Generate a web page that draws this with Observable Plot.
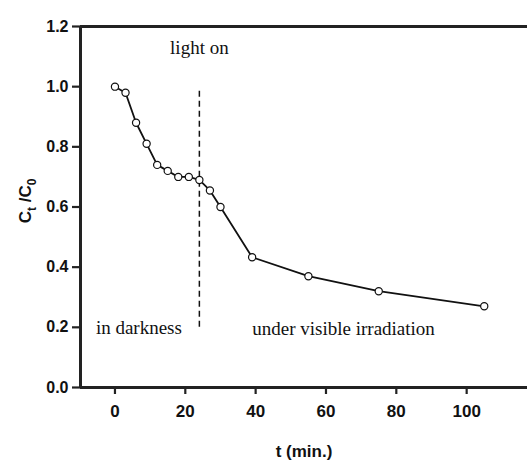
<!DOCTYPE html>
<html>
<head>
<meta charset="utf-8">
<script src="https://cdn.jsdelivr.net/npm/d3@7"></script>
<script src="https://cdn.jsdelivr.net/npm/@observablehq/plot@0.6"></script>
<style>
  html, body { margin: 0; padding: 0; background: #fff; }
  #chart { width: 527px; height: 460px; }
</style>
</head>
<body>
<div id="chart"></div>
<script>
// Data
const times = [0, 3, 6, 9, 12, 15, 18, 21, 24, 27, 30, 39, 55, 75, 105];
const ratios = [1.0, 0.98, 0.88, 0.81, 0.74, 0.72, 0.70, 0.70, 0.69, 0.655, 0.60, 0.433, 0.37, 0.32, 0.27];
const xTicks = [0, 20, 40, 60, 80, 100];
const yTicks = [0, 0.2, 0.4, 0.6, 0.8, 1.0, 1.2];
const lightOnTime = 24;
const annotationTexts = ["light on", "in darkness", "under visible irradiation"];
const annotationX = [24, 6.8, 65];
const annotationY = [1.13, 0.198, 0.195];
const xTitle = "t (min.)";
const yTitle = "C_t /C_0";

const data = times.map((t, i) => ({t, c: ratios[i]}));
const annotations = annotationTexts.map((s, i) => ({s, x: annotationX[i], y: annotationY[i]}));

const axisColor = "#222";
const plot = Plot.plot({
  width: 527,
  height: 460,
  marginLeft: 80,
  marginRight: 0,
  marginTop: 26,
  marginBottom: 73,
  style: {background: "#fff", fontFamily: "'Liberation Sans', Arial, sans-serif", color: "#111"},
  x: {domain: [-9.8, 117.3], ticks: xTicks},
  y: {domain: [0, 1.2], ticks: yTicks},
  marks: [
    Plot.axisX({ticks: xTicks, tickSize: 7, tickPadding: 10, tickFormat: d => String(d), fontSize: 17, fontWeight: "bold", stroke: axisColor, strokeWidth: 2.2, label: null, fill: "#111"}),
    Plot.axisY({ticks: yTicks, tickSize: 8, tickPadding: 4, tickFormat: d3.format(".1f"), fontSize: 16, fontWeight: "bold", stroke: axisColor, strokeWidth: 2.2, label: null, fill: "#111"}),
    Plot.ruleY([0, 1.2], {stroke: axisColor, strokeWidth: 3}),
    Plot.ruleX([-9.8], {stroke: axisColor, strokeWidth: 3}),
    Plot.ruleX([lightOnTime], {y1: 0.2, y2: 0.99, stroke: "#111", strokeWidth: 1.5, strokeDasharray: "6,4"}),
    Plot.line(data, {x: "t", y: "c", stroke: "#111", strokeWidth: 1.8}),
    Plot.dot(data, {x: "t", y: "c", r: 3.6, fill: "#fff", stroke: "#111", strokeWidth: 1.2}),
    Plot.text(annotations, {x: "x", y: "y", text: "s", fontFamily: "'Liberation Serif', 'Times New Roman', serif", fontSize: 19, fill: "#111"}),
    Plot.text([xTitle], {frameAnchor: "bottom", dy: 69, fontSize: 17, fontWeight: "bold", fill: "#111"}),
    Plot.text([yTitle], {frameAnchor: "left", textAnchor: "middle", dx: -55, dy: -6, rotate: -90, fontSize: 17, fontWeight: "bold", fill: "#111"})
  ]
});

// Render subscripts in the y title
d3.select(plot).selectAll("text").each(function() {
  if (this.textContent === yTitle) {
    const t = d3.select(this);
    t.text(null);
    t.append("tspan").text("C");
    t.append("tspan").attr("dy", 5).attr("font-size", 12).text("t");
    t.append("tspan").attr("dy", -5).text(" /C");
    t.append("tspan").attr("dy", 5).attr("font-size", 12).text("0");
  }
});

document.getElementById("chart").appendChild(plot);
</script>
</body>
</html>
